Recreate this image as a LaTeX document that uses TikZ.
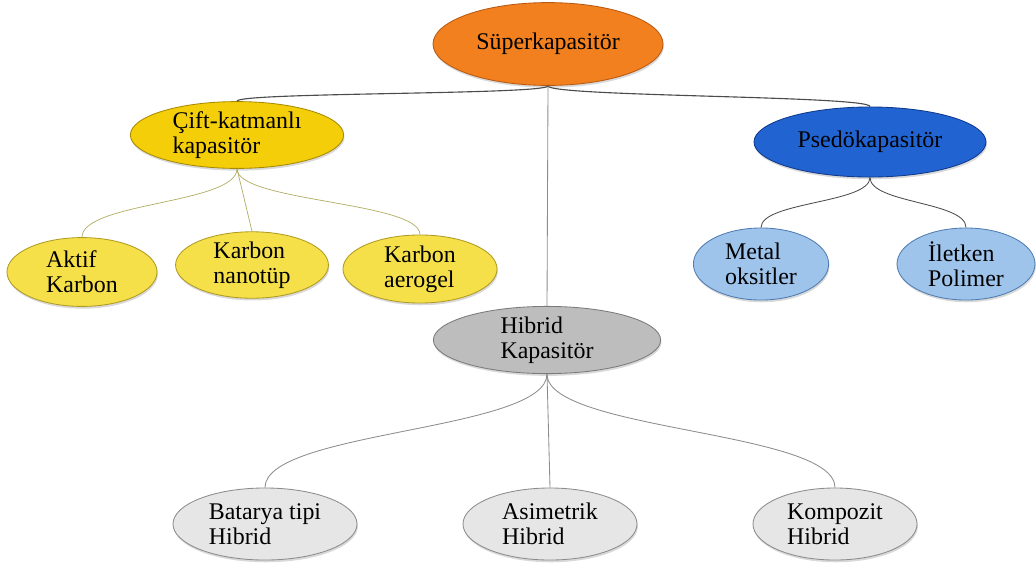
\documentclass[tikz,border=0pt]{standalone}
\usepackage{fontspec}
\setmainfont{Liberation Serif}
\usetikzlibrary{shapes.geometric,shadows}

\definecolor{superfill}{HTML}{F2801F}
\definecolor{superdraw}{HTML}{B85A12}
\definecolor{ciftfill}{HTML}{F5CE0A}
\definecolor{ciftdraw}{HTML}{A88A00}
\definecolor{leaffill}{HTML}{F6E04A}
\definecolor{leafdraw}{HTML}{B09A20}
\definecolor{psedofill}{HTML}{2263D2}
\definecolor{psedodraw}{HTML}{0F3A8C}
\definecolor{bluefill}{HTML}{9EC4EC}
\definecolor{bluedraw}{HTML}{4F7CB0}
\definecolor{hibfill}{HTML}{BDBDBD}
\definecolor{hibdraw}{HTML}{7A7A7A}
\definecolor{grayfill}{HTML}{E6E6E6}
\definecolor{graydraw}{HTML}{8C8C8C}

\tikzset{
    capnode/.style={ellipse, draw, line width=0.6pt, inner sep=0pt,
        align=left, font=\fontsize{17}{18}\selectfont,
        drop shadow={opacity=0.3, shadow xshift=0.6pt, shadow yshift=-1.6pt}},
    darkline/.style={draw=black!70, line width=0.8pt},
    paleline/.style={draw=black!25!yellow!60!gray, line width=0.5pt},
    grayline/.style={draw=black!45, line width=0.6pt},
}

\begin{document}
\begin{tikzpicture}[x=0.025cm,y=-0.025cm]
        \useasboundingbox (0,0) rectangle (1036,567);
        %% Top level
        \node[capnode, fill=superfill, draw=superdraw,
            minimum width=5.75cm, minimum height=2.07cm] (super) at (548,44) {Süperkapasitör};
        %% Second level
        \node[capnode, fill=ciftfill, draw=ciftdraw,
            minimum width=5.33cm, minimum height=1.65cm] (cift) at (237,135) {Çift-katmanlı\\kapasitör};
        \node[capnode, fill=psedofill, draw=psedodraw,
            minimum width=5.8cm, minimum height=1.75cm] (psedo) at (870,142) {Psedökapasitör};
        \node[capnode, fill=hibfill, draw=hibdraw,
            minimum width=5.68cm, minimum height=1.68cm] (hibrid) at (547,340) {Hibrid\\Kapasitör};
        %% Carbon materials
        \node[capnode, fill=leaffill, draw=leafdraw,
            minimum width=3.75cm, minimum height=1.72cm] (aktif) at (82,272) {Aktif\\Karbon};
        \node[capnode, fill=leaffill, draw=leafdraw,
            minimum width=3.82cm, minimum height=1.65cm] (nano) at (252,265) {Karbon\\nanotüp};
        \node[capnode, fill=leaffill, draw=leafdraw,
            minimum width=3.85cm, minimum height=1.7cm] (aero) at (420,269) {Karbon\\aerogel};
        %% Pseudo materials
        \node[capnode, fill=bluefill, draw=bluedraw,
            minimum width=3.38cm, minimum height=1.8cm] (metal) at (761,264) {Metal\\oksitler};
        \node[capnode, fill=bluefill, draw=bluedraw,
            minimum width=3.45cm, minimum height=1.8cm] (iletken) at (966,264) {İletken\\Polimer};
        %% Hybrid types
        \node[capnode, fill=grayfill, draw=graydraw,
            minimum width=4.6cm, minimum height=1.8cm] (batarya) at (265,524) {Batarya tipi\\Hibrid};
        \node[capnode, fill=grayfill, draw=graydraw,
            minimum width=4.35cm, minimum height=1.8cm] (asim) at (550,524) {Asimetrik\\Hibrid};
        \node[capnode, fill=grayfill, draw=graydraw,
            minimum width=4.1cm, minimum height=1.8cm] (kompozit) at (835,524) {Kompozit\\Hibrid};
        %% Links from the top
        \draw[darkline] (super.south) .. controls +(0,9) and +(0,-9) .. (cift.north);
        \draw[darkline] (super.south) .. controls +(0,11) and +(0,-11) .. (psedo.north);
        \draw[grayline] (super.south) -- (hibrid.north);
        %% Links to carbon materials
        \draw[paleline] (cift.south) .. controls +(0,35) and +(0,-35) .. (aktif.north);
        \draw[paleline] (cift.south) -- (nano.north);
        \draw[paleline] (cift.south) .. controls +(0,33) and +(0,-33) .. (aero.north);
        %% Links to pseudo materials
        \draw[darkline, line width=0.6pt] (psedo.south) .. controls +(0,26) and +(0,-26) .. (metal.north);
        \draw[darkline, line width=0.6pt] (psedo.south) .. controls +(0,26) and +(0,-26) .. (iletken.north);
        %% Links to hybrid types
        \draw[grayline] (hibrid.south) .. controls +(0,57) and +(0,-57) .. (batarya.north);
        \draw[grayline] (hibrid.south) -- (asim.north);
        \draw[grayline] (hibrid.south) .. controls +(0,57) and +(0,-57) .. (kompozit.north);
    \end{tikzpicture}
\end{document}
